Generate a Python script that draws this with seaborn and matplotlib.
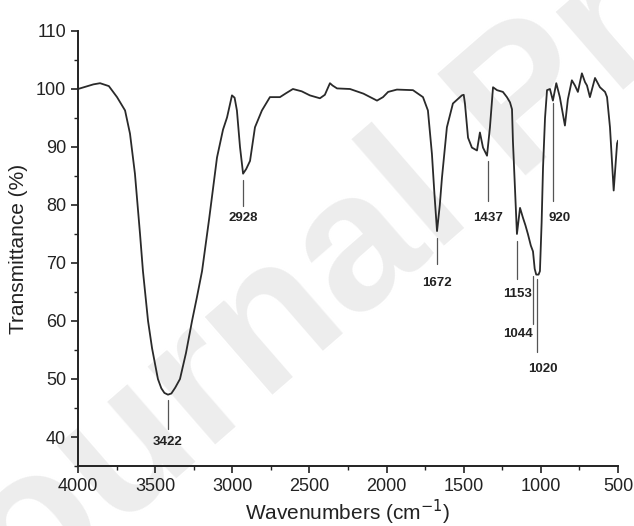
import numpy as np
import pandas as pd
import matplotlib
matplotlib.use('Agg')
import matplotlib.pyplot as plt
import seaborn as sns
from matplotlib.ticker import MultipleLocator

# FTIR spectrum
wavenumber = [4000, 3950, 3900, 3857, 3800, 3747, 3695, 3663, 3631, 3598,
              3579, 3546, 3520, 3500, 3482, 3460, 3440, 3417, 3395, 3370,
              3339, 3300, 3261, 3230, 3196, 3150, 3099, 3060, 3034, 3002,
              2985, 2970, 2950, 2930, 2910, 2885, 2853, 2808, 2756, 2691,
              2650, 2607, 2550, 2497, 2432, 2400, 2367, 2350, 2321, 2237,
              2150, 2062, 2023, 1990, 1933, 1829, 1764, 1732, 1706, 1690,
              1673, 1655, 1641, 1609, 1570, 1512, 1500, 1492, 1472, 1447,
              1414, 1395, 1375, 1349, 1330, 1310, 1284, 1246, 1220, 1200,
              1187, 1181, 1168, 1155, 1135, 1116, 1100, 1084, 1065, 1051,
              1040, 1030, 1015, 1006, 995, 986, 973, 960, 941, 922,
              900, 877, 844, 825, 799, 779, 760, 734, 714, 701,
              682, 649, 617, 584, 571, 552, 528, 506, 500]
transmittance = [100.0, 100.4, 100.8, 101.0, 100.5, 98.6, 96.3, 92.3, 85.4, 75.0,
                 68.6, 60.0, 55.3, 52.5, 50.0, 48.4, 47.6, 47.3, 47.5, 48.5,
                 50.0, 54.5, 60.0, 64.0, 68.6, 77.6, 88.2, 93.0, 95.1, 98.9,
                 98.5, 96.3, 90.0, 85.4, 86.2, 87.6, 93.4, 96.3, 98.6, 98.6,
                 99.3, 100.0, 99.6, 98.9, 98.4, 99.0, 101.0, 100.6, 100.1, 100.0,
                 99.2, 98.0, 98.6, 99.5, 99.9, 99.8, 98.6, 96.3, 88.8, 82.0,
                 75.5, 80.0, 84.7, 93.4, 97.5, 98.9, 99.0, 97.5, 91.6, 89.9,
                 89.4, 92.5, 89.9, 88.5, 93.4, 100.3, 99.8, 99.5, 98.6, 97.7,
                 96.5, 91.0, 83.0, 75.0, 79.5, 77.8, 76.5, 75.0, 73.0, 72.0,
                 69.0, 68.0, 68.0, 68.6, 77.0, 86.4, 95.0, 99.8, 100.0, 98.0,
                 101.0, 98.6, 93.7, 98.2, 101.5, 100.6, 99.5, 102.7, 101.2, 100.6,
                 98.6, 101.9, 100.3, 99.5, 98.6, 93.4, 82.5, 90.6, 91.1]

# peak labels
peak_labels = ['3422', '2928', '1672', '1437', '1153', '1044', '1020', '920']
peak_pos = [3417, 2930, 1673, 1343, 1155, 1050, 1025, 922]
line_top = [46.4, 84.3, 74.3, 87.6, 73.8, 67.7, 67.2, 97.5]
line_bottom = [41.4, 79.8, 69.8, 80.7, 67.2, 59.4, 54.7, 80.7]
label_x = [3417, 2930, 1673, 1343, 1148, 1148, 987, 877]
label_y = [39.1, 77.8, 66.5, 77.8, 64.6, 57.8, 51.8, 77.8]

df = pd.DataFrame({'wn': wavenumber, 'T': transmittance})

sns.set_style('ticks')
plt.rcParams['font.family'] = ['Liberation Sans', 'DejaVu Sans']

fig = plt.figure(figsize=(6.34, 5.26), dpi=100)

# watermark
fig.text(-0.087, -0.293, 'Journal Pre-proof', rotation=41, rotation_mode='anchor',
         ha='left', va='baseline', fontsize=140, fontweight='bold',
         color='#ededed', zorder=-1)

ax = fig.add_axes([78 / 634, 1 - 466 / 526, 540 / 634, 435 / 526])
ax.patch.set_alpha(0)

sns.lineplot(data=df, x='wn', y='T', ax=ax, color='#2a2a2a', linewidth=1.3,
             estimator=None)

for lab, x, y0, y1, tx, ty in zip(peak_labels, peak_pos, line_top, line_bottom,
                                  label_x, label_y):
    ax.plot([x, x], [y0, y1], color='#555555', linewidth=0.9)
    ax.text(tx, ty, lab, ha='center', va='center', fontsize=9.5,
            fontweight='bold', color='#222222')

ax.set_xlim(4000, 500)
ax.set_ylim(35, 110)
ax.xaxis.set_major_locator(MultipleLocator(500))
ax.xaxis.set_minor_locator(MultipleLocator(250))
ax.yaxis.set_major_locator(MultipleLocator(10))
ax.yaxis.set_minor_locator(MultipleLocator(5))
ax.tick_params(which='major', length=5, width=1.2, labelsize=13, colors='#222222')
ax.tick_params(which='minor', length=3, width=1.0, colors='#222222')
ax.set_yticks(range(40, 111, 10))

sns.despine(ax=ax)
for s in ['left', 'bottom']:
    ax.spines[s].set_linewidth(1.4)
    ax.spines[s].set_color('#222222')

ax.set_xlabel('Wavenumbers (cm$^{-1}$)', fontsize=15, color='#222222', labelpad=2)
ax.set_ylabel('Transmittance (%)', fontsize=15, color='#222222', labelpad=6)

fig.savefig('out.png', dpi=100)
